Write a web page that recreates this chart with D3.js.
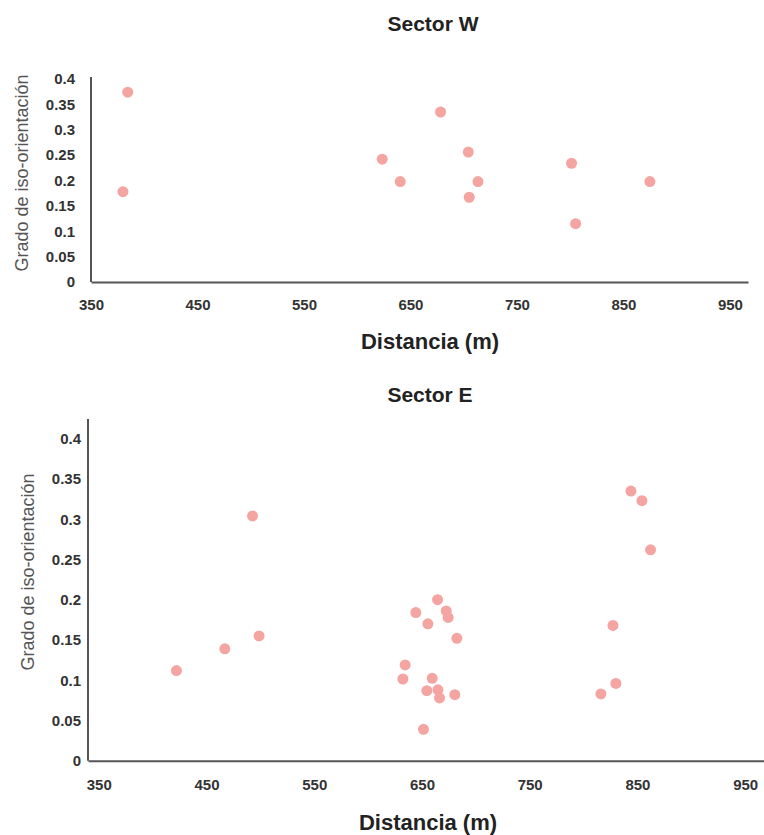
<!DOCTYPE html>
<html>
<head>
<meta charset="utf-8">
<script src="https://cdn.jsdelivr.net/npm/d3@7"></script>
<style>
  body { margin: 0; background: #fff; }
  svg { font-family: "Liberation Sans", Arial, sans-serif; }
</style>
</head>
<body>
<div id="container"></div>
<script>
// Sector W
const distW = [380, 384.5, 623.5, 640.4, 678.3, 704.3, 713.4, 705.2, 801.3, 805.1, 874.9];
const gradoW = [0.178, 0.374, 0.242, 0.198, 0.335, 0.256, 0.198, 0.167, 0.234, 0.115, 0.198];

// Sector E
const distE = [422.1, 467, 492.7, 498.8,
  664.5, 644.3, 672.5, 674.3, 655.5, 682.4, 634.4, 632.3, 659.5, 654.5, 664.8, 666.3, 680.5, 651.4,
  844, 854.2, 862.2, 827.3, 830, 816.1];
const gradoE = [0.112, 0.139, 0.304, 0.155,
  0.200, 0.184, 0.186, 0.178, 0.170, 0.152, 0.119, 0.1015, 0.1024, 0.087, 0.088, 0.078, 0.082, 0.039,
  0.335, 0.323, 0.262, 0.168, 0.096, 0.083];

const xTicks = [350, 450, 550, 650, 750, 850, 950];
const yTicks = [0, 0.05, 0.1, 0.15, 0.2, 0.25, 0.3, 0.35, 0.4];

const width = 764;
const height = 835;
const dotColor = "#f4a5a2";
const axisColor = "#555";

const svg = d3.select("#container").append("svg")
  .attr("width", width)
  .attr("height", height);

function panel(opts) {
  const pts = opts.xs.map((d, i) => ({ x: d, y: opts.ys[i] }));

  const x = d3.scaleLinear().domain(opts.xDomain).range(opts.xRange);
  const y = d3.scaleLinear().domain([0, 0.4]).range(opts.yRange);

  const g = svg.append("g");

  // title
  g.append("text")
    .attr("x", opts.titleX).attr("y", opts.titleY)
    .attr("text-anchor", "middle")
    .attr("font-size", 21).attr("font-weight", "bold").attr("fill", "#222")
    .text(opts.title);

  // x axis
  g.append("g")
    .attr("transform", `translate(0,${y(0)})`)
    .call(d3.axisBottom(x).tickValues(xTicks).tickSize(0).tickPadding(opts.xPad).tickFormat(d3.format("d")))
    .call(s => s.select(".domain").attr("stroke", axisColor).attr("stroke-width", 2))
    .call(s => s.selectAll("text")
      .attr("font-size", 15).attr("font-weight", "bold").attr("fill", "#333")
      .attr("font-family", "Liberation Sans, Arial, sans-serif"));

  // y axis
  g.append("g")
    .attr("transform", `translate(${x(opts.xDomain[0])},0)`)
    .call(d3.axisLeft(y).tickValues(yTicks).tickSize(0).tickPadding(opts.yPad).tickFormat(d => String(d)))
    .call(s => s.select(".domain").attr("stroke", axisColor).attr("stroke-width", 2)
      .attr("d", `M0,${opts.axisTop}V${y(0)}`))
    .call(s => s.selectAll("text")
      .attr("font-size", 15).attr("font-weight", "bold").attr("fill", "#333")
      .attr("font-family", "Liberation Sans, Arial, sans-serif"));

  // axis titles
  g.append("text")
    .attr("transform", `translate(${opts.yTitleX},${opts.yTitleY}) rotate(-90)`)
    .attr("text-anchor", "middle").attr("dy", "0.35em")
    .attr("font-size", 18).attr("fill", "#555")
    .text("Grado de iso-orientación");

  g.append("text")
    .attr("x", opts.xTitleX).attr("y", opts.xTitleY)
    .attr("text-anchor", "middle")
    .attr("font-size", 22).attr("font-weight", "bold").attr("fill", "#222")
    .text("Distancia (m)");

  // dots
  g.append("g")
    .attr("fill", dotColor)
    .selectAll("circle")
    .data(pts)
    .join("circle")
    .attr("cx", d => x(d.x))
    .attr("cy", d => y(d.y))
    .attr("r", 5.5);
}

panel({
  title: "Sector W", titleX: 433, titleY: 31,
  xs: distW, ys: gradoW,
  xDomain: [350, 967], xRange: [91, 748],
  yRange: [282, 79], axisTop: 77,
  xPad: 17, yPad: 16,
  yTitleX: 22, yTitleY: 173,
  xTitleX: 430, xTitleY: 349
});

panel({
  title: "Sector E", titleX: 430, titleY: 402,
  xs: distE, ys: gradoE,
  xDomain: [340, 967.5], xRange: [88, 764],
  yRange: [760.7, 438.7], axisTop: 419,
  xPad: 19, yPad: 7,
  yTitleX: 28, yTitleY: 572,
  xTitleX: 428, xTitleY: 830
});
</script>
</body>
</html>
